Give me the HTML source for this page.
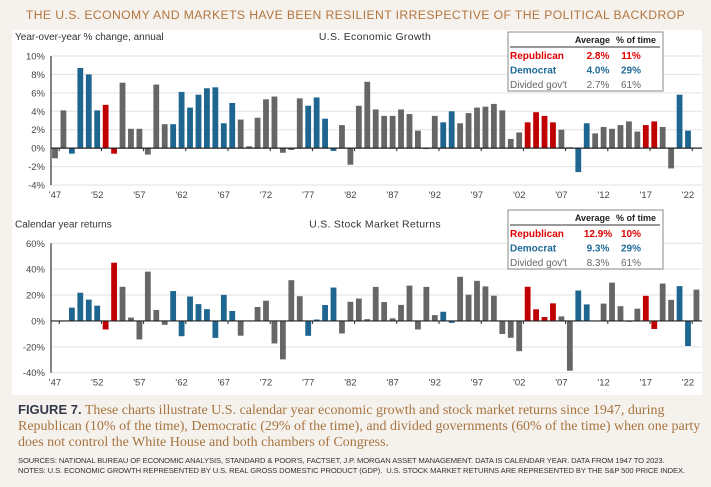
<!DOCTYPE html>
<html><head><meta charset="utf-8"><style>
body{margin:0;width:711px;height:487px;background:#f5f2ee;font-family:"Liberation Sans",sans-serif;overflow:hidden;position:relative}
.t{position:absolute;left:0;width:711px;text-align:center;top:8px;font-family:"Liberation Sans",sans-serif;font-size:12.2px;color:#b3753d;letter-spacing:0.4px}
.cap{position:absolute;left:18px;top:402px;width:690px;font-family:"Liberation Serif",serif;font-size:14px;line-height:16px;color:#a8743f}
.cap b{font-family:"Liberation Sans",sans-serif;color:#33384a;font-weight:bold;font-size:13px}
.src{position:absolute;left:18px;top:456px;font-size:7.6px;line-height:10px;color:#333;letter-spacing:-0.1px}
</style></head><body>
<div class="t">THE U.S. ECONOMY AND MARKETS HAVE BEEN RESILIENT IRRESPECTIVE OF THE POLITICAL BACKDROP</div>
<svg id="c" width="711" height="487" style="position:absolute;left:0;top:0"></svg>
<div class="cap"><b>FIGURE 7.</b> These charts illustrate U.S. calendar year economic growth and stock market returns since 1947, during Republican (10% of the time), Democratic (29% of the time), and divided governments (60% of the time) when one party does not control the White House and both chambers of Congress.</div>
<div class="src">SOURCES: NATIONAL BUREAU OF ECONOMIC ANALYSIS, STANDARD &amp; POOR'S, FACTSET, J.P. MORGAN ASSET MANAGEMENT. DATA IS CALENDAR YEAR. DATA FROM 1947 TO 2023.<br>NOTES: U.S. ECONOMIC GROWTH REPRESENTED BY U.S. REAL GROSS DOMESTIC PRODUCT (GDP). &nbsp;U.S. STOCK MARKET RETURNS ARE REPRESENTED BY THE S&amp;P 500 PRICE INDEX.</div>
<script>
const years=[];for(let y=1947;y<=2023;y++)years.push(y);
const party="GGDDDDRRGGGGGGDDDDDDDDGGGGGGGGDDDDGGGGGGGGGGGGDDGGGGGGGGRRRRGGDDGGGGGGRRGGDDG";
const gdp=[-1.1,4.1,-0.6,8.7,8.0,4.1,4.7,-0.6,7.1,2.1,2.1,-0.7,6.9,2.6,2.6,6.1,4.4,5.8,6.5,6.6,2.7,4.9,3.1,0.2,3.3,5.3,5.6,-0.5,-0.2,5.4,4.6,5.5,3.2,-0.3,2.5,-1.8,4.6,7.2,4.2,3.5,3.5,4.2,3.7,1.9,-0.1,3.5,2.8,4.0,2.7,3.8,4.4,4.5,4.8,4.1,1.0,1.7,2.8,3.9,3.5,2.8,2.0,0.1,-2.6,2.7,1.6,2.3,2.1,2.5,2.9,1.8,2.5,2.9,2.3,-2.2,5.8,1.9,null];
const stocks=[0,-0.5,10.3,21.8,16.5,11.8,-6.6,45.0,26.4,2.6,-14.3,38.1,8.5,-3.0,23.1,-11.8,18.9,13.0,9.1,-13.1,20.1,7.7,-11.4,0.1,10.8,15.6,-17.4,-29.7,31.5,19.1,-11.5,1.1,12.3,25.8,-9.7,14.8,17.3,1.4,26.3,14.6,2.0,12.4,27.3,-6.6,26.3,4.5,7.1,-1.5,34.1,20.3,31.0,26.7,19.5,-10.1,-13.0,-23.4,26.4,9.0,3.0,13.6,3.5,-38.5,23.5,12.8,0.0,13.4,29.6,11.4,-0.7,9.5,19.4,-6.2,28.9,16.3,26.9,-19.4,24.2];
const gdpTicks=[10,8,6,4,2,0,-2,-4];
const stockTicks=[60,40,20,0,-20,-40];
const xLabels=["'47","'52","'57","'62","'67","'72","'77","'82","'87","'92","'97","'02","'07","'12","'17","'22"];
const gdpLegend=[["Republican","2.8%","11%","#e00000"],["Democrat","4.0%","29%","#1f6a96"],["Divided gov't","2.7%","61%","#666"]];
const stockLegend=[["Republican","12.9%","10%","#e00000"],["Democrat","9.3%","29%","#1f6a96"],["Divided gov't","8.3%","61%","#666"]];
const col={R:"#c00000",D:"#1e6590",G:"#666666"};
const svg=document.getElementById('c');const NS="http://www.w3.org/2000/svg";
function el(t,a,txt){const e=document.createElementNS(NS,t);for(const k in a)e.setAttribute(k,a[k]);if(txt!=null)e.textContent=txt;svg.appendChild(e);return e;}
const r=el('rect',{x:12,y:30,width:690,height:365,fill:'#fff'});


const X=i=>55+i*8.44;
function panel(vals,ticks,ymax,ymin,top,bot,suf,ytitle,title,leg,ly,lname){
  const Y=v=>top+(ymax-v)/(ymax-ymin)*(bot-top);
  ticks.forEach(t=>{
    const g=el('line',{x1:51,x2:702,y1:Y(t),y2:Y(t),stroke:'#e2e2e2','stroke-width':1});
    
    
    const tl=el('text',{x:45,y:Y(t)+3.5,'text-anchor':'end','font-size':9.5,fill:'#444'},t+'%');
    
    
  });
  vals.forEach((v,i)=>{if(v==null)return;
    const y0=Y(0),y1=Y(v);
    const b=el('rect',{x:X(i)-2.9,y:Math.min(y0,y1),width:5.8,height:Math.max(Math.abs(y1-y0),0.6),fill:col[party[i]]});
    
    
  });
  const ax=el('line',{x1:51,x2:51,y1:top,y2:bot,stroke:'#333','stroke-width':1.2});
  
  
  const zx=el('line',{x1:51,x2:702,y1:Y(0),y2:Y(0),stroke:'#222','stroke-width':1.2});
  
  
  xLabels.forEach((l,k)=>{
    const tk=el('line',{x1:X(k*5)+4.2,x2:X(k*5)+4.2,y1:Y(0),y2:Y(0)+3,stroke:'#222'});
    
    
    const t=el('text',{x:X(k*5),y:bot+13,'text-anchor':'middle','font-size':9.5,fill:'#444'},l);
    
    
  });
  const yt=el('text',{x:15,y:top-16,'font-size':10,fill:'#333'},ytitle);
  
  
  const ct=el('text',{x:375,y:top-16,'text-anchor':'middle','font-size':10.5,fill:'#333','letter-spacing':'0.3'},title);
  
  
  const lb=el('rect',{x:508,y:ly,width:155,height:59,fill:'#fff',stroke:'#888','stroke-width':1});
  
  
  el('text',{x:610,y:ly+11,'text-anchor':'end','font-size':9,'font-weight':'bold',fill:'#222'},'Average');
  el('text',{x:616,y:ly+11,'text-anchor':'start','font-size':9,'font-weight':'bold',fill:'#222'},'% of time');
  el('line',{x1:510,x2:660,y1:ly+15,y2:ly+15,stroke:'#333','stroke-width':1});
  leg.forEach((row,k)=>{const yy=ly+27+k*14.5;
    const a=el('text',{x:510,y:yy,'font-size':10,'font-weight':k==2?'normal':'bold',fill:row[3]},row[0]);
    
    
    el('text',{x:598,y:yy,'text-anchor':'middle','font-size':10,'font-weight':k==2?'normal':'bold',fill:row[3]},row[1]);
    el('text',{x:631,y:yy,'text-anchor':'middle','font-size':10,'font-weight':k==2?'normal':'bold',fill:row[3]},row[2]);
  });
}
panel(gdp,gdpTicks,10,-4,56,185,'','Year-over-year % change, annual','U.S. Economic Growth',gdpLegend,32,'gdp-legend');
panel(stocks,stockTicks,60,-40,243.3,372.7,'','Calendar year returns','U.S. Stock Market Returns',stockLegend,210,'stock-legend');
</script>
</body></html>
